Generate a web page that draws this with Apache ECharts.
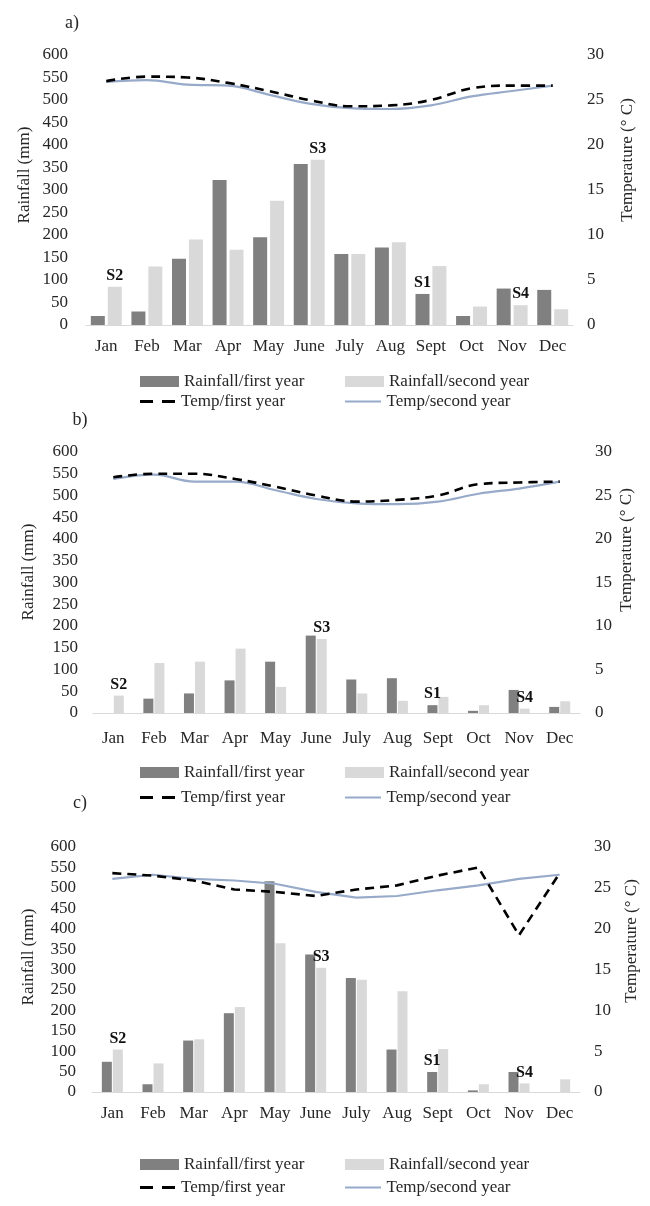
<!DOCTYPE html>
<html>
<head>
<meta charset="utf-8">
<script src="https://cdn.jsdelivr.net/npm/echarts@6/dist/echarts.min.js"></script>
<style>
html,body{margin:0;padding:0;background:#fff;}
#chart{width:650px;height:1206px;}
</style>
</head>
<body>
<div id="chart"></div>
<script>
// ---------- DATA ----------
const months = ['Jan','Feb','Mar','Apr','May','June','July','Aug','Sept','Oct','Nov','Dec'];
const seriesNames = ['Rainfall/first year','Rainfall/second year','Temp/first year','Temp/second year'];

// panel a)
const rainA1 = [20,30,147,322,195,358,158,172,69,20,81,78];
const rainA2 = [85,130,190,167,276,367,158,184,131,41,44,35];
const tempA1 = [27.1,27.6,27.5,26.9,26.0,25.0,24.3,24.4,25.0,26.3,26.6,26.6];
const tempA2 = [27.0,27.2,26.7,26.6,25.6,24.6,24.1,24.0,24.4,25.4,26.0,26.6];

// panel b)
const rainB1 = [0,33,45,75,118,178,77,80,18,5,53,14];
const rainB2 = [40,115,118,148,60,170,45,28,37,18,10,27];
const tempB1 = [27.1,27.5,27.5,26.9,26.0,25.0,24.3,24.5,25.0,26.3,26.5,26.6];
const tempB2 = [26.9,27.4,26.6,26.6,25.6,24.6,24.1,24.0,24.3,25.2,25.8,26.6];

// panel c)
const rainC1 = [74,19,126,193,516,337,279,104,49,4,49,0];
const rainC2 = [104,70,129,208,364,304,275,247,105,19,21,31];
const tempC1 = [26.8,26.5,25.9,24.8,24.5,24.0,24.8,25.3,26.5,27.5,19.2,26.8];
const tempC2 = [26.1,26.6,26.1,25.9,25.5,24.5,23.8,24.0,24.7,25.3,26.1,26.6];

// site annotations: [label, month, which rainfall series (1 or 2)]
const siteMarks = [['S2','Jan',2],['S3','June',2],['S1','Sept',1],['S4','Nov',2]];

const rainMax = 600, rainStep = 50;
const tempMax = 30, tempStep = 5;
const panelTags = ['a)','b)','c)'];
const leftTitle = 'Rainfall (mm)';
const rightTitle = 'Temperature (° C)';

// ---------- STYLE / LAYOUT ----------
const FONT = '"Liberation Serif", "Times New Roman", serif';
const TXT = '#262626';
const DARK = '#808080', LIGHT = '#d9d9d9', BLUE = '#98aac9';
const ICON_DASH = 'path://M0,0h13v3h-13zM22,0h13v3h-13z';
const ICON_SOLID = 'path://M0,0.6h36v2h-36zM0,0h0.01v3h-0.01z';

const panels = [
  {r1:rainA1, r2:rainA2, t1:tempA1, t2:tempA2, smooth:0.4,
   grid:{left:86, right:77, top:55, height:270}, bw:14, gap:'21%', xm:13, lm:18, rm:14,
   legY:[382,402], tag:[72,23], lt:[25,175], rt:[628,160]},
  {r1:rainB1, r2:rainB2, t1:tempB1, t2:tempB2, smooth:0.4,
   grid:{left:93, right:70, top:452, height:261}, bw:10, gap:'10%', xm:17, lm:15, rm:15,
   legY:[773,798], tag:[80,420], lt:[29,572], rt:[627,550]},
  {r1:rainC1, r2:rainC2, t1:tempC1, t2:tempC2, smooth:false,
   grid:{left:92, right:70, top:847, height:245}, bw:10, gap:'10%', xm:13, lm:16, rm:14,
   legY:[1165,1188], tag:[80,803], lt:[29,957], rt:[632,941]}
];

function barData(values, which) {
  return values.map((v, i) => {
    const m = siteMarks.find(s => s[1] === months[i] && s[2] === which);
    if (!m) return v;
    return {value: v, label: {show: true, position: 'top', distance: 3, formatter: m[0],
      fontFamily: FONT, fontSize: 16, fontWeight: 'bold', color: '#111'}};
  });
}

const grids = [], xAxes = [], yAxes = [], series = [], legends = [], graphics = [];
const legendCols = [140, 345];
panels.forEach((p, i) => {
  grids.push(Object.assign({containLabel:false}, p.grid));
  xAxes.push({type:'category', gridIndex:i, data:months,
    axisLine:{show:true, lineStyle:{color:'#d9d9d9', width:1}},
    axisTick:{show:false},
    axisLabel:{fontFamily:FONT, fontSize:17, color:TXT, margin:p.xm, interval:0}});
  yAxes.push({type:'value', gridIndex:i, min:0, max:rainMax, interval:rainStep, position:'left',
    splitLine:{show:false}, axisLine:{show:false}, axisTick:{show:false},
    axisLabel:{fontFamily:FONT, fontSize:17, color:TXT, margin:p.lm}});
  yAxes.push({type:'value', gridIndex:i, min:0, max:tempMax, interval:tempStep, position:'right',
    splitLine:{show:false}, axisLine:{show:false}, axisTick:{show:false},
    axisLabel:{fontFamily:FONT, fontSize:17, color:TXT, margin:p.rm}});
  series.push({name:seriesNames[0], type:'bar', xAxisIndex:i, yAxisIndex:2*i,
    data:barData(p.r1,1), barWidth:p.bw, barGap:p.gap, itemStyle:{color:DARK}, z:2});
  series.push({name:seriesNames[1], type:'bar', xAxisIndex:i, yAxisIndex:2*i,
    data:barData(p.r2,2), barWidth:p.bw, barGap:p.gap, itemStyle:{color:LIGHT}, z:2});
  series.push({name:seriesNames[2], type:'line', xAxisIndex:i, yAxisIndex:2*i+1,
    data:p.t1, smooth:p.smooth, symbol:'none', showSymbol:false, z:4,
    itemStyle:{color:'#000'}, lineStyle:{color:'#000', width:2.6, type:[9,6]}});
  series.push({name:seriesNames[3], type:'line', xAxisIndex:i, yAxisIndex:2*i+1,
    data:p.t2, smooth:p.smooth, symbol:'none', showSymbol:false, z:3,
    itemStyle:{color:BLUE}, lineStyle:{color:BLUE, width:2.2}});

  const legBase = {orient:'horizontal', selectedMode:false, padding:0,
    textStyle:{fontFamily:FONT, fontSize:17, color:TXT}};
  const legItems = [
    {name:seriesNames[0], icon:'rect', w:39, h:11, row:0, col:0},
    {name:seriesNames[1], icon:'rect', w:39, h:11, row:0, col:1},
    {name:seriesNames[2], icon:ICON_DASH, w:37, h:3, row:1, col:0, color:'#000'},
    {name:seriesNames[3], icon:ICON_SOLID, w:37, h:3, row:1, col:1, color:BLUE}
  ];
  legItems.forEach(it => {
    const d = {name:it.name, icon:it.icon};
    if (it.color) d.itemStyle = {color:it.color};
    legends.push(Object.assign({}, legBase, {left:legendCols[it.col], top:p.legY[it.row]-9,
      itemWidth:it.w, itemHeight:it.h, data:[d]}));
  });

  graphics.push({type:'text', x:p.tag[0], y:p.tag[1],
    style:{text:panelTags[i], fontFamily:FONT, fontSize:18, fill:TXT, align:'center', verticalAlign:'middle'}});
  graphics.push({type:'text', x:p.lt[0], y:p.lt[1], rotation:Math.PI/2,
    style:{text:leftTitle, fontFamily:FONT, fontSize:17, fill:TXT, align:'center', verticalAlign:'middle'}});
  graphics.push({type:'text', x:p.rt[0], y:p.rt[1], rotation:Math.PI/2,
    style:{text:rightTitle, fontFamily:FONT, fontSize:17, fill:TXT, align:'center', verticalAlign:'middle'}});
});

const chart = echarts.init(document.getElementById('chart'), null, {renderer:'canvas'});
chart.setOption({
  animation:false,
  backgroundColor:'#ffffff',
  grid:grids, xAxis:xAxes, yAxis:yAxes, series:series, legend:legends, graphic:graphics
});
</script>
</body>
</html>
